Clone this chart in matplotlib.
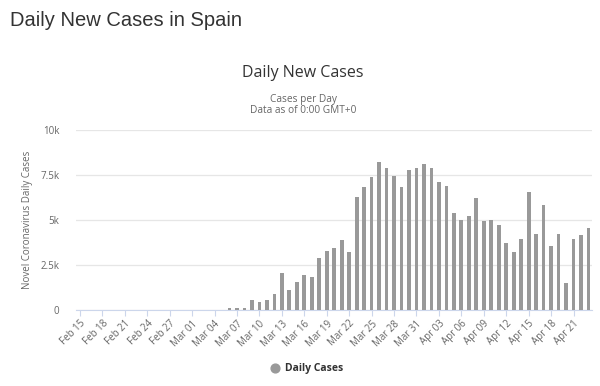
import matplotlib
matplotlib.use("Agg")
import matplotlib.pyplot as plt
import numpy as np
from datetime import date, timedelta

# Tagesdaten Spanien
start_day = date(2020, 2, 15)
n_days = 69
dates = [start_day + timedelta(days=i) for i in range(n_days)]
day_labels = [d.strftime("%b %d") for d in dates]

# Feb 15 - Mar 05: nichts sichtbar
early_cases = [0] * 20
# Mar 06 - Apr 23
later_cases = [
    95, 95, 95, 540, 430, 540, 870, 2060, 1130, 1560,
    1930, 1830, 2910, 3280, 3460, 3890, 3220, 6300, 6850, 7410,
    8200, 7870, 7440, 6810, 7780, 7870, 8110, 7870, 7090, 6890,
    5410, 5000, 5220, 6200, 4940, 5000, 4700, 3740, 3220, 3930,
    6540, 4240, 5830, 3560, 4200, 1500, 3930, 4150, 4570,
]
daily_cases = early_cases + later_cases

y_ticks = [0, 2500, 5000, 7500, 10000]
y_tick_labels = ["0", "2.5k", "5k", "7.5k", "10k"]

plt.rcParams["font.family"] = ["Open Sans", "DejaVu Sans"]

fig = plt.figure(figsize=(6, 3.86), dpi=100)
ax = fig.add_axes([0.127, 0.197, 0.86, 0.466])

x = np.arange(n_days)
ax.bar(x, daily_cases, width=0.5, color="#999999", zorder=3)

ax.set_xlim(-0.5, n_days - 0.5)
ax.set_ylim(0, 10000)
ax.set_yticks(y_ticks)
ax.set_yticklabels(y_tick_labels, fontsize=7, color="#666666")
ax.tick_params(axis="y", length=0, pad=12)
ax.yaxis.grid(True, color="#e6e6e6", linewidth=0.9, zorder=0)

tick_pos = x[::3]
ax.set_xticks(tick_pos)
ax.set_xticklabels(day_labels[::3], rotation=45, ha="right",
                   rotation_mode="anchor", fontsize=7, color="#666666")
ax.tick_params(axis="x", length=4, color="#ccd6eb", pad=2)

for side in ["top", "right", "left"]:
    ax.spines[side].set_visible(False)
ax.spines["bottom"].set_color("#ccd6eb")

ax.set_ylabel("Novel Coronavirus Daily Cases", fontsize=7, color="#666666", labelpad=5)

fig.text(0.017, 0.948, "Daily New Cases in Spain", fontsize=14.5, color="#333333",
         family=["Liberation Sans", "DejaVu Sans"], va="center")
fig.text(0.505, 0.81, "Daily New Cases", fontsize=11.5, color="#333333",
         ha="center", va="center")
fig.text(0.505, 0.743, "Cases per Day", fontsize=7.3, color="#666666",
         ha="center", va="center")
fig.text(0.505, 0.713, "Data as of 0:00 GMT+0", fontsize=7.3, color="#666666",
         ha="center", va="center")

# Legende
leg_ax = fig.add_axes([0, 0, 1, 1], facecolor="none")
leg_ax.set_xlim(0, 600)
leg_ax.set_ylim(386, 0)
leg_ax.axis("off")
leg_ax.scatter([275], [368], s=40, color="#999999")
leg_ax.text(285, 368, "Daily Cases", fontsize=7.5, fontweight="bold",
            color="#333333", va="center")

fig.savefig("out.png", dpi=100)
